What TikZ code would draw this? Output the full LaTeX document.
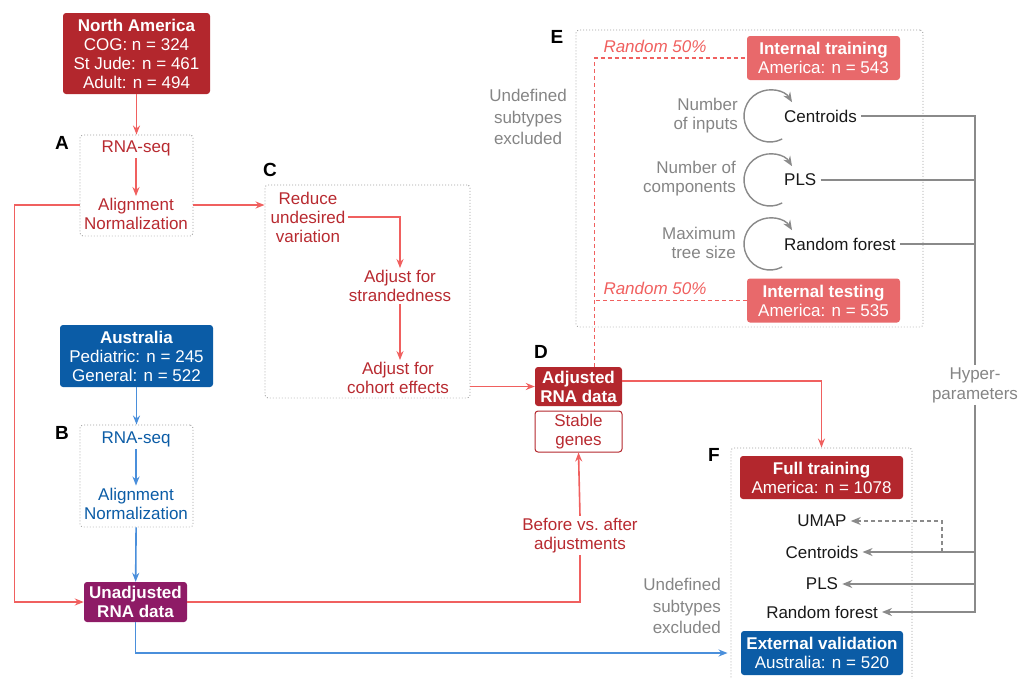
\documentclass[tikz,border=0pt]{standalone}
\usepackage{fontspec}
\setmainfont{Liberation Sans}
\usetikzlibrary{arrows.meta, positioning, calc}

\definecolor{darkred}{HTML}{B3272D}
\definecolor{lightred}{HTML}{E8696B}
\definecolor{redline}{HTML}{F0605F}
\definecolor{redtext}{HTML}{B82A30}
\definecolor{ausblue}{HTML}{0B5CA6}
\definecolor{blueline}{HTML}{4A8FDB}
\definecolor{unadjpurple}{HTML}{8E1B66}
\definecolor{graytext}{HTML}{858585}
\definecolor{grayline}{HTML}{8A8A8A}
\definecolor{dotgray}{HTML}{A0A0A0}

\tikzset{
  every node/.style={font=\fontsize{17}{19}\selectfont, align=center, inner sep=2pt},
  cohort/.style={fill=#1, text=white, rounded corners=3pt},
  dotbox/.style={draw=dotgray, dash pattern=on 0.9pt off 2.1pt, line width=0.9pt,
    rounded corners=3pt, inner sep=0pt},
  lbl/.style={font=\fontsize{19}{21}\selectfont\bfseries},
  blk/.style={text=black!90, inner sep=4pt},
  graylbl/.style={text=graytext, font=\fontsize{17}{21.5}\selectfont},
  randlbl/.style={text=redline, font=\fontsize{17}{19}\selectfont\itshape},
  redarrow/.style={draw=redline, line width=1.6pt, -{Stealth[length=9pt,width=7pt]}},
  redplain/.style={draw=redline, line width=1.6pt},
  reddash/.style={draw=redline, line width=1.2pt, dash pattern=on 4pt off 3pt},
  bluearrow/.style={draw=blueline, line width=1.6pt, -{Stealth[length=9pt,width=7pt]}},
  grayplain/.style={draw=grayline, line width=1.6pt},
  grayarrow/.style={draw=grayline, line width=1.6pt, -{Stealth[length=10pt,width=8pt]}},
  graydash/.style={draw=grayline, line width=1.6pt, dash pattern=on 4pt off 3pt,
    -{Stealth[length=10pt,width=8pt]}},
  looparrow/.style={draw=grayline, line width=1.4pt, -{Stealth[length=10pt,width=8pt]}}
}

\begin{document}
\begin{tikzpicture}[x=1pt, y=-1pt]
\clip (0,0) rectangle (1018,678);

% A: North America cohort
\node[cohort=darkred, minimum width=147, minimum height=81] (na) at (136.5,53.5)
  {\textbf{North America}\\COG: n = 324\\St Jude: n = 461\\Adult: n = 494};
\node[dotbox, minimum width=113, minimum height=101] (abox) at (136.5,185.5) {};
\node[lbl] (lblA) at (62,143) {A};
\node[text=redtext] (aseq) at (136,148) {RNA-seq};
\node[text=redtext] (aalign) at (136,214) {Alignment\\Normalization};
\draw[redarrow] (na) -- (abox);
\draw[redarrow] (aseq) -- (aalign);

% B: Australia cohort
\node[cohort=ausblue, minimum width=153, minimum height=62] (aus) at (136.5,356)
  {\textbf{Australia}\\Pediatric: n = 245\\General: n = 522};
\node[dotbox, minimum width=113, minimum height=102] (bbox) at (136.5,476) {};
\node[lbl] (lblB) at (62,433) {B};
\node[text=ausblue] (bseq) at (136,439) {RNA-seq};
\node[text=ausblue] (balign) at (136,503.5) {Alignment\\Normalization};
\node[cohort=unadjpurple, minimum width=103, minimum height=40,
  font=\fontsize{17}{19}\selectfont\bfseries] (unadj) at (135.5,602) {Unadjusted\\RNA data};
\draw[bluearrow] (aus) -- (bbox);
\draw[bluearrow] (bseq) -- (balign);
\draw[bluearrow] (bbox) -- (unadj);

% C: adjustments
\node[dotbox, minimum width=205, minimum height=213] (cbox) at (367.5,291.5) {};
\node[lbl] (lblC) at (270,170) {C};
\node[text=redtext] (reduce) at (308,217) {Reduce\\undesired\\variation};
\node[text=redtext] (strand) at (400,286) {Adjust for\\strandedness};
\node[text=redtext] (cohort) at (398,378) {Adjust for\\cohort effects};
\draw[redarrow] ([yshift=-19.5pt]abox.east) -- ([yshift=-19.5pt]abox.east -| cbox.west);
\draw[redarrow] ([yshift=-19.5pt]abox.west) -- ++(-65,0) |- (unadj.west);
\draw[redarrow] (reduce.east) -| (strand.north);
\draw[redarrow] (strand.south) -- (strand.south |- cohort.north);

% D: adjusted data
\node[cohort=darkred, minimum width=87, minimum height=39,
  font=\fontsize{17}{19}\selectfont\bfseries] (adj) at (578.5,386.5) {Adjusted\\RNA data};
\node[draw=darkred, line width=1pt, rounded corners=3pt, text=redtext,
  minimum width=87, minimum height=41] (stable) at (578.5,431.5) {Stable\\genes};
\node[lbl] (lblD) at (541,352) {D};
\node[text=redtext] (before) at (580,535.5) {Before vs.\ after\\adjustments};
\draw[redarrow] (cbox.east |- adj.west) -- (adj.west);
\draw[redplain] (unadj.east) -| (before.south);
\draw[redarrow] (before.north) -- (stable.south);

% E: internal training and testing
\node[dotbox, minimum width=347, minimum height=297] (ebox) at (749.5,178.5) {};
\node[lbl] (lblE) at (557,37) {E};
\node[cohort=lightred, minimum width=153, minimum height=44] (itrain) at (823.5,58)
  {\textbf{Internal training}\\America: n = 543};
\node[cohort=lightred, minimum width=153, minimum height=44] (itest) at (823.5,300.5)
  {\textbf{Internal testing}\\America: n = 535};
\node[randlbl] (rand1) at (655,46) {Random 50\%};
\node[randlbl] (rand2) at (655,288) {Random 50\%};
\node[graylbl, anchor=east] (excl1) at (569,117) {Undefined\\subtypes\\excluded};
\node[blk, anchor=west] (ecent) at (780,116) {Centroids};
\node[blk, anchor=west] (epls) at (780,180) {PLS};
\node[blk, anchor=west] (erf) at (780,244) {Random forest};
\node[text=graytext, anchor=east, align=right] (ninp) at (740,116) {Number\\of inputs};
\node[text=graytext, anchor=east, align=right] (ncomp) at (738,179) {Number of\\components};
\node[text=graytext, anchor=east, align=right] (ntree) at (738,243) {Maximum\\tree size};
\foreach \m in {ecent, epls, erf}
  \draw[looparrow] ($(\m.west)+(-10,0)+(62:26)$) arc[start angle=62, end angle=328, radius=26];
\coordinate (split) at ([xshift=16pt]adj.north);
\draw[reddash] (split) |- (itrain.west);
\draw[reddash] (itest.west) -- (itest.west -| split);

% hyperparameters
\node[graylbl, font=\fontsize{17}{20}\selectfont] (hyp) at (975,385) {Hyper-\\parameters};
\draw[grayplain] (ecent.east) -| (hyp.north);
\draw[grayplain] (epls.east) -- (epls.east -| hyp.north);
\draw[grayplain] (erf.east) -- (erf.east -| hyp.north);

% F: full training and external validation
\node[dotbox, minimum width=181, minimum height=240] (fbox) at (821.5,568) {};
\node[lbl] (lblF) at (714,455) {F};
\node[cohort=darkred, minimum width=163, minimum height=43] (full) at (821.5,477.5)
  {\textbf{Full training}\\America: n = 1078};
\node[blk] (fumap) at (822,521) {UMAP};
\node[blk] (fcent) at (822,552) {Centroids};
\node[blk] (fpls) at (822,584) {PLS};
\node[blk] (frf) at (822,612) {Random forest};
\node[graylbl, anchor=east, align=right] (excl2) at (723,606) {Undefined\\subtypes\\excluded};
\node[cohort=ausblue, minimum width=162, minimum height=44] (ext) at (822,653)
  {\textbf{External validation}\\Australia: n = 520};
\draw[redarrow] ([yshift=5.5pt]adj.east) -| (fbox.north);
\draw[bluearrow] (unadj.south) |- ([xshift=-3pt]fbox.west |- ext.west);
\draw[grayarrow] (hyp.south) |- (frf.east);
\draw[grayarrow] (fcent.east -| hyp.south) -- (fcent.east);
\draw[grayarrow] (fpls.east -| hyp.south) -- (fpls.east);
\coordinate (ujoin) at (942,552);
\draw[graydash] (ujoin) |- (fumap.east);
\end{tikzpicture}
\end{document}
